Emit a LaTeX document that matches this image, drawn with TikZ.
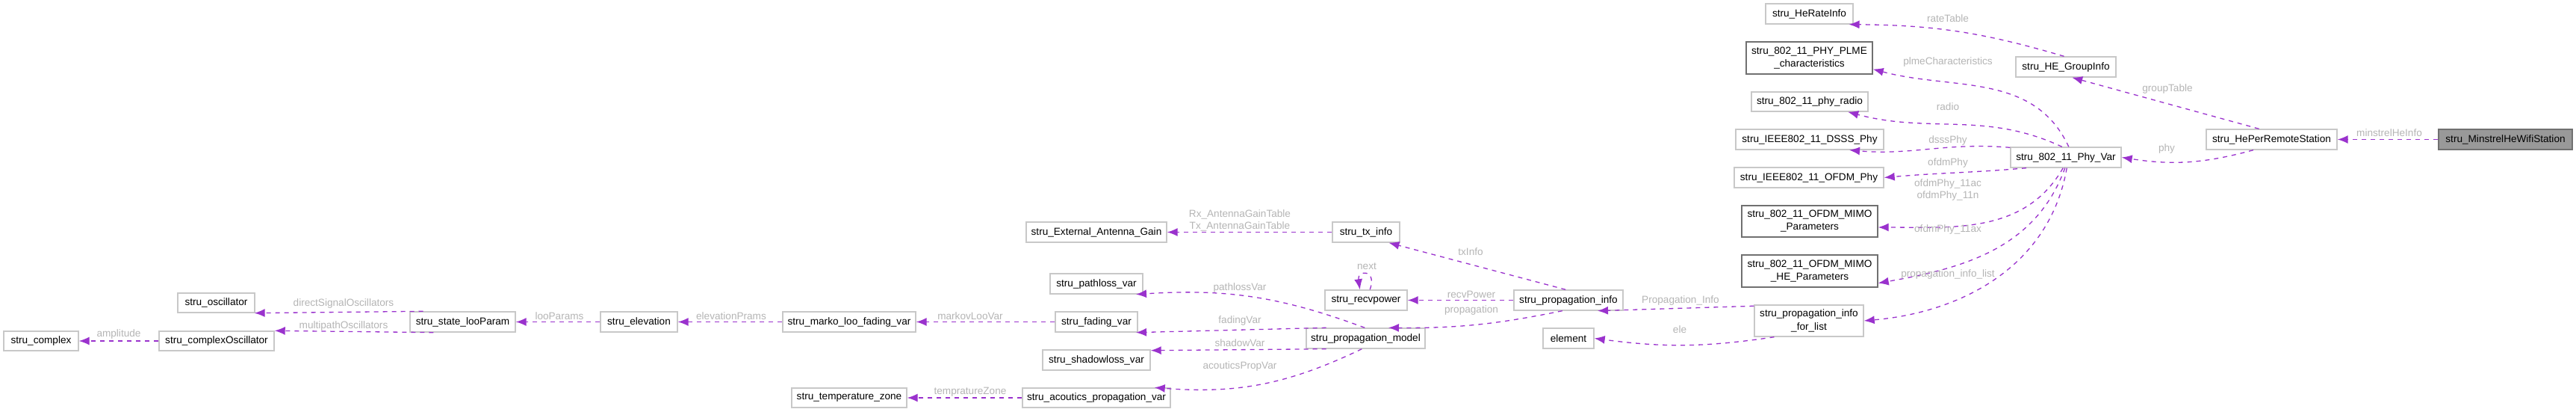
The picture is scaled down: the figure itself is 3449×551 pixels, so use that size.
\documentclass[tikz,border=0pt]{standalone}
\usepackage{fontspec}
\setmainfont{Liberation Sans}
\usetikzlibrary{arrows.meta}
\definecolor{edge}{HTML}{9A32CD}
\definecolor{lbl}{HTML}{B4B4B4}
\definecolor{bd}{HTML}{C8C8C8}
\definecolor{dbd}{HTML}{707070}
\begin{document}
\begin{tikzpicture}[x=0.5pt,y=-0.5pt,
  box/.style={draw=bd,line width=0.7pt,fill=white,inner sep=0pt,align=center,font=\fontsize{6.8}{8.6}\selectfont},
  dbox/.style={box,draw=dbd},
  mbox/.style={box,draw=dbd,fill={rgb,255:red,153;green,153;blue,153}},
  lab/.style={text=lbl,inner sep=0pt,align=center,font=\fontsize{6.8}{8}\selectfont},
  e/.style={draw=edge,line width=0.65pt,dash pattern=on 3pt off 3pt,-{Latex[length=7pt,width=5.5pt]}}]
\useasboundingbox (0,0) rectangle (3449,551);
\newcommand\nd[7][box]{\node[#1,minimum width={(#5-#3)*0.5pt},minimum height={(#6-#4)*0.5pt}] (#2) at ({(#3+#5)/2},{(#4+#6)/2}) {#7};}
\nd[mbox]{mhe}{3265}{173}{3444}{200}{stru\_MinstrelHeWifiStation}
\nd{hep}{2954}{173}{3129}{200}{stru\_HePerRemoteStation}
\nd{grp}{2699}{76}{2833}{103}{stru\_HE\_GroupInfo}
\nd{rate}{2364}{5}{2481}{32}{stru\_HeRateInfo}
\nd{phy}{2692}{197}{2840}{224}{stru\_802\_11\_Phy\_Var}
\nd[dbox]{plme}{2338}{56}{2507}{99}{stru\_802\_11\_PHY\_PLME\\\_characteristics}
\nd{radio}{2345}{123}{2501}{149}{stru\_802\_11\_phy\_radio}
\nd{dsss}{2324}{173}{2522}{200}{stru\_IEEE802\_11\_DSSS\_Phy}
\nd{ofdm}{2322}{224}{2522}{251}{stru\_IEEE802\_11\_OFDM\_Phy}
\nd[dbox]{mimo}{2332}{275}{2514}{317}{stru\_802\_11\_OFDM\_MIMO\\\_Parameters}
\nd[dbox]{mimohe}{2332}{341}{2514}{384}{stru\_802\_11\_OFDM\_MIMO\\\_HE\_Parameters}
\nd{fl}{2349}{408}{2495}{450}{stru\_propagation\_info\\\_for\_list}
\nd{pi}{2027}{388}{2173}{415}{stru\_propagation\_info}
\nd{el}{2066}{439}{2134}{466}{element}
\nd{tx}{1784}{297}{1874}{324}{stru\_tx\_info}
\nd{rp}{1774}{388}{1884}{415}{stru\_recvpower}
\nd{pm}{1749}{439}{1908}{466}{stru\_propagation\_model}
\nd{ext}{1374}{297}{1562}{324}{stru\_External\_Antenna\_Gain}
\nd{pl}{1406}{366}{1530}{393}{stru\_pathloss\_var}
\nd{fd}{1413}{417}{1523}{444}{stru\_fading\_var}
\nd{sh}{1396}{468}{1540}{495}{stru\_shadowloss\_var}
\nd{ac}{1369}{519}{1567}{545}{stru\_acoutics\_propagation\_var}
\nd{tz}{1060}{519}{1214}{545}{stru\_temperature\_zone}
\nd{mk}{1048}{417}{1226}{444}{stru\_marko\_loo\_fading\_var}
\nd{ev}{804}{417}{907}{444}{stru\_elevation}
\nd{st}{549}{417}{690}{444}{stru\_state\_looParam}
\nd{os}{238}{392}{341}{418}{stru\_oscillator}
\nd{co}{213}{443}{367}{469}{stru\_complexOscillator}
\nd{cx}{5}{443}{105}{469}{stru\_complex}

\draw[e] (mhe.west) -- (hep.east);
\draw[e] (hep.140) -- (grp.-60);
\draw[e] (hep.-150) to[bend left=12] (phy.east);
\draw[e] (grp.100) to[bend right=8] (rate.-15);
\draw[e] (phy.75) to[out=115,in=-15] (plme.-10);
\draw[e] (phy.110) to[out=155,in=-15] (radio.-15);
\draw[e] (phy.170) to[out=175,in=-5] (dsss.-15);
\draw[e] (phy.-165) to[out=185,in=5] (ofdm.east);
\draw[e] (phy.-105) to[out=240,in=0] (mimo.-5);
\draw[e] (phy.-95) to[out=250,in=10] (mimohe.-10);
\draw[e] (phy.-85) to[out=260,in=5] (fl.east);
\draw[e] (fl.165) -- (pi.-20);
\draw[e] (fl.-155) to[bend left=8] (el.east);
\draw[e] (pi.105) -- (tx.-25);
\draw[e] (pi.west) -- (rp.east);
\draw[e] (rp.70) .. controls +(10,-28) and +(-4,-26) .. (rp.120);
\draw[e] (pi.-120) to[bend left=6] (pm.25);
\draw[e] (tx.west) -- (ext.east);
\draw[e] (pm.95) to[bend right=12] (pl.-15);
\draw[e] (pm.165) -- (fd.-15);
\draw[e] (pm.-165) -- (sh.10);
\draw[e] (pm.-110) to[bend left=15] (ac.10);
\draw[e] (ac.west) -- (tz.east);
\draw[e] (fd.west) -- (mk.east);
\draw[e] (mk.west) -- (ev.east);
\draw[e] (ev.west) -- (st.east);
\draw[e] (st.165) -- (os.-15);
\draw[e] (st.-160) -- (co.10);
\draw[e] (co.west) -- (cx.east);

\node[lab] (l1) at (3199,178) {minstrelHeInfo};
\node[lab] (l2) at (2902,119) {groupTable};
\node[lab] (l3) at (2901,199) {phy};
\node[lab] (l4) at (2608,25) {rateTable};
\node[lab] (l5) at (2608,83) {plmeCharacteristics};
\node[lab] (l6) at (2608,143) {radio};
\node[lab] (l7) at (2608,188) {dsssPhy};
\node[lab] (l8) at (2608,218) {ofdmPhy};
\node[lab] (l9) at (2608,254) {ofdmPhy\_11ac\\ofdmPhy\_11n};
\node[lab] (l10) at (2608,307) {ofdmPhy\_11ax};
\node[lab] (l11) at (2608,367) {propagation\_info\_list};
\node[lab] (l12) at (2250,402) {Propagation\_Info};
\node[lab] (l13) at (2249,441) {ele};
\node[lab] (l14) at (1969,337) {txInfo};
\node[lab] (l15) at (1830,356) {next};
\node[lab] (l16) at (1970,394) {recvPower};
\node[lab] (l17) at (1970,415) {propagation};
\node[lab] (l18) at (1660,295) {Rx\_AntennaGainTable\\Tx\_AntennaGainTable};
\node[lab] (l19) at (1660,385) {pathlossVar};
\node[lab] (l20) at (1660,429) {fadingVar};
\node[lab] (l21) at (1660,459) {shadowVar};
\node[lab] (l22) at (1660,490) {acouticsPropVar};
\node[lab] (l23) at (1299,423) {markovLooVar};
\node[lab] (l24) at (1299,524) {tempratureZone};
\node[lab] (l25) at (749,423) {looParams};
\node[lab] (l26) at (979,423) {elevationPrams};
\node[lab] (l27) at (460,406) {directSignalOscillators};
\node[lab] (l28) at (460,436) {multipathOscillators};
\node[lab] (l29) at (159,447) {amplitude};
\end{tikzpicture}
\end{document}
